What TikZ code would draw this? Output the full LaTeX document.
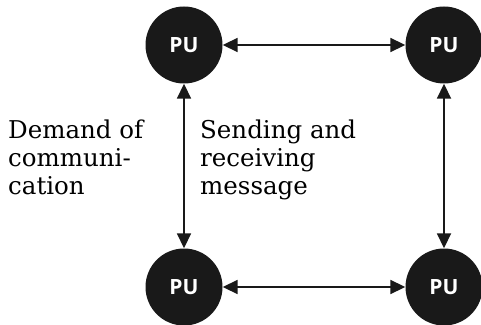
\documentclass[tikz,border=0pt]{standalone}
\usepackage{fontspec}
\setmainfont{DejaVu Serif}
\newfontfamily\pufont{Open Sans}
\usetikzlibrary{arrows.meta}

\tikzset{
	pu/.style={circle, fill=black!90, minimum size=77pt, inner sep=0pt, text=white, font=\pufont\bfseries\fontsize{21}{21}\selectfont},
	link/.style={line width=1.8pt, black!90, {Triangle[length=15pt, width=14pt]}-{Triangle[length=15pt, width=14pt]}},
	remark/.style={align=left, inner sep=0pt, anchor=base west, font=\fontsize{24.5}{28}\selectfont}
}

\begin{document}
\begin{tikzpicture}[x=1pt, y=1pt]
	\useasboundingbox (0,0) rectangle (481,324);

	%% Prozessoren
	\node[pu] (tl) at (184,279) {PU};
	\node[pu] (tr) at (444,279) {PU};
	\node[pu] (bl) at (184,37) {PU};
	\node[pu] (br) at (444,37) {PU};
	%%%%%%%%%%%%%%%%

	%% Verbindungen
	\draw[link] (tl) -- (tr);
	\draw[link] (bl) -- (br);
	\draw[link] (tl) -- (bl);
	\draw[link] (tr) -- (br);

	%% Beschriftung
	\node[remark] (demand) at (8,129) {Demand of\\communi-\\cation};
	\node[remark] (sending) at (200,129) {Sending and\\receiving\\message};
\end{tikzpicture}
\end{document}
